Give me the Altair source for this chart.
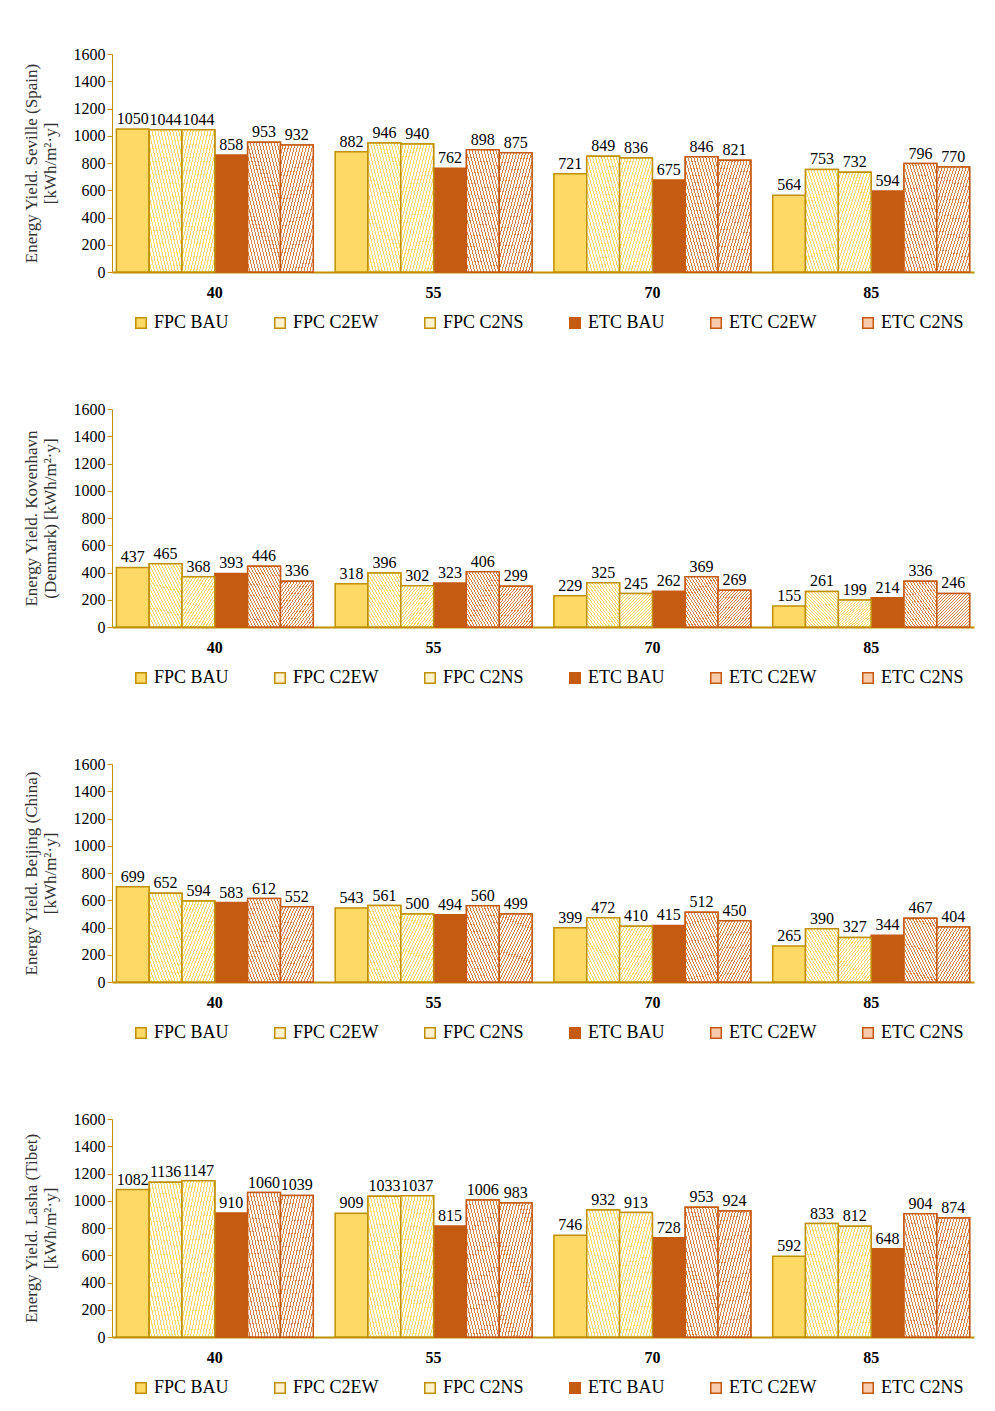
import pandas as pd
import altair as alt

angles = ["40", "55", "70", "85"]
series = ["FPC BAU", "FPC C2EW", "FPC C2NS", "ETC BAU", "ETC C2EW", "ETC C2NS"]

seville = [[1050, 1044, 1044, 858, 953, 932], [882, 946, 940, 762, 898, 875],
           [721, 849, 836, 675, 846, 821], [564, 753, 732, 594, 796, 770]]
kovenhavn = [[437, 465, 368, 393, 446, 336], [318, 396, 302, 323, 406, 299],
             [229, 325, 245, 262, 369, 269], [155, 261, 199, 214, 336, 246]]
beijing = [[699, 652, 594, 583, 612, 552], [543, 561, 500, 494, 560, 499],
           [399, 472, 410, 415, 512, 450], [265, 390, 327, 344, 467, 404]]
lasha = [[1082, 1136, 1147, 910, 1060, 1039], [909, 1033, 1037, 815, 1006, 983],
         [746, 932, 913, 728, 953, 924], [592, 833, 812, 648, 904, 874]]

titles = [["Energy Yield. Seville (Spain)", "[kWh/m²·y]"],
          ["Energy Yield. Kovenhavn", "(Denmark) [kWh/m²·y]"],
          ["Energy Yield. Beijing (China)", "[kWh/m²·y]"],
          ["Energy Yield. Lasha  (Tibet)", "[kWh/m²·y]"]]

FONT = "Liberation Serif"
GOLD = "#BF9000"
RED = "#C55A11"
legend_fill = ["#FFD966", "#FFF2CC", "#FFF2CC", RED, "#F8CBAD", "#F8CBAD"]
strokes = [GOLD, GOLD, GOLD, RED, RED, RED]


def stripes(c1, c2, diag, n=22, share=0.35):
    stops = []
    for i in range(n):
        stops += [alt.GradientStop(offset=i / n, color=c1),
                  alt.GradientStop(offset=(i + 1 - share) / n, color=c1),
                  alt.GradientStop(offset=(i + 1 - share) / n, color=c2),
                  alt.GradientStop(offset=(i + 1) / n, color=c2)]
    if diag == "back":
        return alt.LinearGradient(gradient="linear", stops=stops, x1=0, y1=1, x2=1, y2=0)
    return alt.LinearGradient(gradient="linear", stops=stops, x1=0, y1=0, x2=1, y2=1)


fills = [None,
         stripes("#FFFFFF", "#FFD966", "back"),
         stripes("#FFFFFF", "#FFD966", "fwd"),
         None,
         stripes("#FFFFFF", "#D9824A", "back"),
         stripes("#FFFFFF", "#D9824A", "fwd")]


def panel(vals, title):
    rows = []
    for a, row in zip(angles, vals):
        for s, v in zip(series, row):
            rows.append({"angle": a, "series": s, "value": v})
    df = pd.DataFrame(rows)
    base = alt.Chart(df).encode(
        x=alt.X("angle:N", sort=angles, title=None,
                scale=alt.Scale(paddingInner=0.1, paddingOuter=0.02),
                axis=alt.Axis(labelAngle=0, labelFont=FONT, labelFontSize=16,
                              labelFontWeight="bold", labelPadding=12, ticks=False,
                              domainColor=GOLD, domainWidth=2, labelColor="black")),
        xOffset=alt.XOffset("series:N", sort=series,
                            scale=alt.Scale(domain=series, paddingInner=0, paddingOuter=0)),
        y=alt.Y("value:Q", title=title, scale=alt.Scale(domain=[0, 1600]),
                axis=alt.Axis(values=list(range(0, 1601, 200)), grid=False, format="d",
                              labelFont=FONT, labelFontSize=16, labelColor="black",
                              titleFont=FONT, titleFontSize=17, titleFontWeight="normal",
                              titleColor="#333", domainColor=GOLD, tickColor=GOLD,
                              titlePadding=14)),
    )
    solid = base.mark_bar(strokeWidth=1.5).encode(
        color=alt.Color("series:N", sort=series,
                        scale=alt.Scale(domain=series, range=legend_fill),
                        legend=alt.Legend(title=None, orient="none", legendX=20, legendY=42 + 218,
                                          direction="horizontal",
                                          columns=6, symbolType="square", symbolSize=110,
                                          symbolStrokeWidth=1.5, labelFont=FONT,
                                          labelFontSize=18, columnPadding=42,
                                          labelLimit=200)),
        stroke=alt.Stroke("series:N", sort=series,
                          scale=alt.Scale(domain=series, range=strokes), legend=None),
    )
    layers = [solid]
    for s, f, st in zip(series, fills, strokes):
        if f is None:
            continue
        layers.append(base.mark_bar(fill=f, stroke=st, strokeWidth=1.5)
                      .transform_filter(alt.datum.series == s))
    text = base.mark_text(dy=-10, font=FONT, fontSize=16, color="black").encode(
        text="value:Q")
    layers.append(text)
    return alt.layer(*layers).properties(width=862, height=218)


charts = [panel(v, t) for v, t in zip([seville, kovenhavn, beijing, lasha], titles)]

chart = alt.vconcat(*charts, spacing=69).resolve_scale(
    color="independent", stroke="independent"
).resolve_legend(color="independent").properties(
    padding={"top": 38, "left": 14, "right": 5, "bottom": 5}
).configure_view(stroke=None)

chart.save("out.html", embed_options={"renderer": "svg", "actions": False})
